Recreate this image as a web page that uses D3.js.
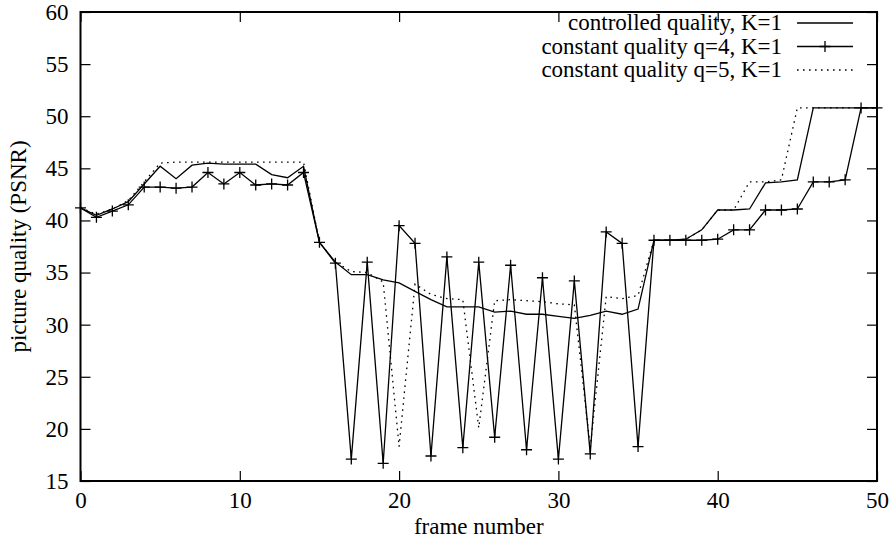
<!DOCTYPE html>
<html>
<head>
<meta charset="utf-8">
<script src="https://cdn.jsdelivr.net/npm/d3@7"></script>
<style>
  html, body { margin: 0; padding: 0; background: #fff; }
  svg { display: block; }
  svg text { font-family: "Liberation Serif", "Times New Roman", Times, "Nimbus Roman", "DejaVu Serif", serif !important; fill: #000; }
</style>
</head>
<body>
<svg id="chart" width="896" height="542"></svg>
<script>
// Frame numbers along the x axis
const frames = [0, 1, 2, 3, 4, 5, 6, 7, 8, 9, 10, 11, 12, 13, 14, 15, 16, 17, 18, 19, 20,
  21, 22, 23, 24, 25, 26, 27, 28, 29, 30, 31, 32, 33, 34, 35, 36, 37, 38, 39, 40,
  41, 42, 43, 44, 45, 46, 47, 48, 49, 50];

// PSNR per frame, controlled quality, K=1
const controlled = [41.2, 40.5, 41.1, 41.8, 43.5, 45.2, 44.0, 45.3, 45.5, 45.4, 45.4, 45.4, 44.4, 44.1, 45.2,
  37.9, 36.0, 34.8, 34.8, 34.3, 34.0, 33.2, 32.4, 31.7, 31.7, 31.7, 31.2, 31.3, 31.0, 31.0, 30.8,
  30.6, 30.9, 31.3, 31.0, 31.5,
  38.1, 38.1, 38.2, 39.1, 41.0, 41.0, 41.1, 43.6, 43.7, 43.9, 50.8, 50.8, 50.8, 50.8, 50.8];

// PSNR per frame, constant quality q=4, K=1
const constQ4 = [41.2, 40.3, 40.9, 41.5, 43.2, 43.2, 43.1, 43.2, 44.6, 43.5, 44.6, 43.4, 43.5, 43.4, 44.6,
  37.9, 35.9, 17.1, 36.0, 16.7, 39.5, 37.8, 17.4, 36.5, 18.2, 36.0, 19.2, 35.7, 18.0, 34.5, 17.1,
  34.2, 17.6, 38.9, 37.8, 18.3,
  38.1, 38.1, 38.1, 38.1, 38.2, 39.1, 39.1, 41.0, 41.0, 41.1, 43.7, 43.7, 43.9, 50.8, 50.8];

// PSNR per frame, constant quality q=5, K=1
const constQ5 = [41.2, 40.6, 41.1, 41.9, 43.7, 45.5, 45.6, 45.6, 45.6, 45.6, 45.6, 45.6, 45.6, 45.6, 45.6,
  37.9, 36.0, 35.1, 35.0, 34.1, 18.3, 33.9, 32.9, 32.5, 32.4, 20.1, 32.3, 32.4, 32.3, 32.2, 32.0,
  31.9, 18.2, 32.7, 32.5, 32.8,
  38.1, 38.1, 38.2, 39.1, 41.0, 41.0, 43.7, 43.7, 43.9, 50.8, 50.8, 50.8, 50.8, 50.8, 50.8];

const xTicks = [0, 10, 20, 30, 40, 50];
const yTicks = [15, 20, 25, 30, 35, 40, 45, 50, 55, 60];

const seriesNames = ["controlled quality, K=1", "constant quality q=4, K=1", "constant quality q=5, K=1"];

const svg = d3.select("#chart");
const plot = { left: 80.5, right: 877, top: 12, bottom: 481 };
const fontSize = 23;
const serif = '"Liberation Serif", "Times New Roman", Times, serif';

const x = d3.scaleLinear().domain([0, 50]).range([plot.left, plot.right]);
const y = d3.scaleLinear().domain([15, 60]).range([plot.bottom, plot.top]);

// Inward ticks on all four sides
const tickLen = 10;
function styleAxis(g) {
  g.attr("font-family", serif);
  g.select(".domain").remove();
  g.selectAll(".tick line").attr("stroke", "#000").attr("stroke-width", 1.2);
  g.selectAll(".tick text").attr("font-size", fontSize).attr("font-family", serif);
}

svg.append("g")
  .attr("transform", `translate(0,${plot.bottom})`)
  .call(d3.axisBottom(x).tickValues(xTicks).tickSizeInner(-tickLen).tickSizeOuter(0).tickPadding(11))
  .call(styleAxis);
svg.append("g")
  .attr("transform", `translate(0,${plot.top})`)
  .call(d3.axisTop(x).tickValues(xTicks).tickSizeInner(-tickLen).tickSizeOuter(0).tickFormat(""))
  .call(styleAxis);
svg.append("g")
  .attr("transform", `translate(${plot.left},0)`)
  .call(d3.axisLeft(y).tickValues(yTicks).tickSizeInner(-tickLen).tickSizeOuter(0).tickPadding(12))
  .call(styleAxis);
svg.append("g")
  .attr("transform", `translate(${plot.right},0)`)
  .call(d3.axisRight(y).tickValues(yTicks).tickSizeInner(-tickLen).tickSizeOuter(0).tickFormat(""))
  .call(styleAxis);

// Plot frame
svg.append("rect")
  .attr("x", plot.left).attr("y", plot.top)
  .attr("width", plot.right - plot.left).attr("height", plot.bottom - plot.top)
  .attr("fill", "none").attr("stroke", "#000").attr("stroke-width", 2);

// Axis titles
svg.append("text")
  .attr("x", (plot.left + plot.right) / 2).attr("y", 534)
  .attr("text-anchor", "middle").attr("font-size", fontSize).attr("font-family", serif)
  .text("frame number");
svg.append("text")
  .attr("transform", `translate(26,${(plot.top + plot.bottom) / 2}) rotate(-90)`)
  .attr("text-anchor", "middle").attr("font-size", fontSize).attr("font-family", serif)
  .text("picture quality (PSNR)");

const line = d3.line().x((d, i) => x(frames[i])).y(d => y(d));

// Series lines
const lineStyle = [
  { data: controlled, dash: null },
  { data: constQ4, dash: null },
  { data: constQ5, dash: "1.6,4.4" }
];
lineStyle.forEach(s => {
  svg.append("path")
    .datum(s.data)
    .attr("d", line)
    .attr("fill", "none")
    .attr("stroke", "#000")
    .attr("stroke-width", 1.3)
    .attr("stroke-linejoin", "miter")
    .attr("stroke-dasharray", s.dash);
});

// Plus markers for q=4
const plusHalf = 5.5;
const plusPath = (cx, cy) => `M${cx - plusHalf},${cy}H${cx + plusHalf}M${cx},${cy - plusHalf}V${cy + plusHalf}`;
svg.append("g")
  .selectAll("path")
  .data(constQ4)
  .join("path")
  .attr("d", (d, i) => plusPath(x(frames[i]), y(d)))
  .attr("stroke", "#000")
  .attr("stroke-width", 1.3);

// Legend
const legend = svg.append("g");
const legendRowY = [23, 46.5, 70];
const sampleX0 = 797, sampleX1 = 853, textRight = 782;
seriesNames.forEach((name, i) => {
  const ly = legendRowY[i];
  legend.append("text")
    .attr("x", textRight).attr("y", ly + 7)
    .attr("text-anchor", "end").attr("font-size", fontSize).attr("font-family", serif)
    .text(name);
  legend.append("line")
    .attr("x1", sampleX0).attr("x2", sampleX1)
    .attr("y1", ly).attr("y2", ly)
    .attr("stroke", "#000").attr("stroke-width", 1.3)
    .attr("stroke-dasharray", lineStyle[i].dash);
  if (i === 1) {
    legend.append("path")
      .attr("d", plusPath((sampleX0 + sampleX1) / 2, ly))
      .attr("stroke", "#000").attr("stroke-width", 1.3);
  }
});
</script>
</body>
</html>
